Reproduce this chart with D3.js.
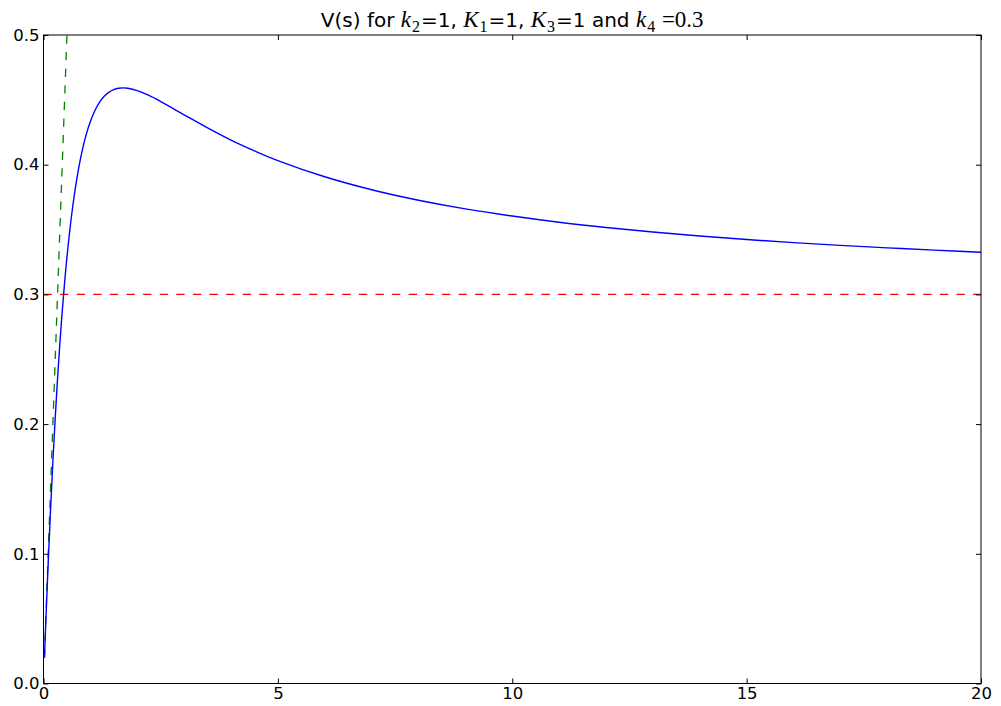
<!DOCTYPE html>
<html>
<head>
<meta charset="utf-8">
<script src="https://cdn.jsdelivr.net/npm/d3@7/dist/d3.min.js"></script>
<style>
html,body{margin:0;padding:0;background:#fff;}
svg{display:block;}
</style>
</head>
<body>
<svg id="chart" width="1001" height="706"></svg>
<script>
// Data
const sValues = [0.02,0.05,0.1,0.15,0.2,0.25,0.3,0.35,0.4,0.45,0.5,0.6,0.7,0.8,0.9,1.0,1.1,1.2,1.3,1.4,1.5,1.6,1.7,1.8,2.0,2.25,2.5,2.75,3,3.5,4,4.5,5,6,7,8,9,10,11,12,13,14,15,16,17,18,19,20];
const vValues = [0.0197,0.0482,0.0928,0.1337,0.1710,0.2048,0.2353,0.2626,0.2872,0.3091,0.3286,0.3612,0.3868,0.4066,0.4218,0.4333,0.4420,0.4484,0.4529,0.4560,0.4579,0.4589,0.4592,0.4589,0.4571,0.4534,0.4487,0.4436,0.4385,0.4284,0.4190,0.4107,0.4032,0.3907,0.3807,0.3726,0.3659,0.3604,0.3556,0.3516,0.3481,0.3450,0.3423,0.3399,0.3378,0.3359,0.3341,0.3325];
const slopeS = [0.02, 0.6];
const slopeV = [0.02, 0.6];
const asymS = [0, 20];
const asymV = [0.3, 0.3];
const xTicks = [0,5,10,15,20];
const yTicks = [0.0,0.1,0.2,0.3,0.4,0.5];

(function(){
const svg = d3.select("#chart");
const L = 43.5, R = 981, T = 35, B = 683.5;
const x = d3.scaleLinear().domain([0,20]).range([L,R]);
const y = d3.scaleLinear().domain([0,0.5]).range([B,T]);

svg.append("defs").append("clipPath").attr("id","clip")
  .append("rect").attr("x",L).attr("y",T).attr("width",R-L).attr("height",B-T);

const g = svg.append("g").attr("clip-path","url(#clip)");
const line = d3.line().x(d=>x(d[0])).y(d=>y(d[1]));
const lineSmooth = d3.line().x(d=>x(d[0])).y(d=>y(d[1])).curve(d3.curveCatmullRom.alpha(0.5));

g.append("path").datum(asymS.map((s,i)=>[s,asymV[i]]))
  .attr("d",line).attr("fill","none").attr("stroke","#ff0000")
  .attr("stroke-width",1.3).attr("stroke-dasharray","8.3,8.3");
g.append("path").datum(slopeS.map((s,i)=>[s,slopeV[i]]))
  .attr("d",line).attr("fill","none").attr("stroke","#008000")
  .attr("stroke-width",1.3).attr("stroke-dasharray","8.3,8.3");
g.append("path").datum(sValues.map((s,i)=>[s,vValues[i]]))
  .attr("d",lineSmooth).attr("fill","none").attr("stroke","#0000ff")
  .attr("stroke-width",1.4);

// Axes with inward ticks
const fs = "16.5px";
const fam = "DejaVu Sans";
const ax = svg.append("g").attr("font-family",fam).attr("font-size",fs);
const axB = ax.append("g").attr("transform",`translate(0,${B})`)
  .call(d3.axisBottom(x).tickValues(xTicks).tickSizeInner(-5).tickSizeOuter(0).tickPadding(10).tickFormat(d3.format("d")));
ax.append("g").attr("transform",`translate(0,${T})`)
  .call(d3.axisTop(x).tickValues(xTicks).tickSizeInner(-5).tickSizeOuter(0).tickFormat(""));
const axL = ax.append("g").attr("transform",`translate(${L},0)`)
  .call(d3.axisLeft(y).tickValues(yTicks).tickSizeInner(-5).tickSizeOuter(0).tickPadding(10).tickFormat(d3.format(".1f")));
ax.append("g").attr("transform",`translate(${R},0)`)
  .call(d3.axisRight(y).tickValues(yTicks).tickSizeInner(-5).tickSizeOuter(0).tickFormat(""));
ax.selectAll(".domain").remove();
ax.selectAll("text").attr("fill","#000").attr("font-family",fam).attr("font-size",fs);
ax.selectAll(".tick line").attr("stroke","#000");
axB.selectAll("text").attr("dy","0.71em").attr("y",4);
axL.selectAll("text").attr("x",-4);

svg.append("rect").attr("x",L).attr("y",T).attr("width",R-L).attr("height",B-T)
  .attr("fill","none").attr("stroke","#000").attr("stroke-width",1);

// Title with math parts
const title = svg.append("text").attr("x",(L+R)/2).attr("y",27)
  .attr("text-anchor","middle").attr("font-family",fam).attr("font-size","20px").attr("fill","#000");
const mf = "'Liberation Serif', 'DejaVu Serif', serif";
const parts = [
  {t:"V(s) for "},
  {t:"k", m:true, i:true},
  {t:"2", m:true, sub:true},
  {t:"=1, ", back:true},
  {t:"K", m:true, i:true},
  {t:"1", m:true, sub:true},
  {t:"=1, ", back:true},
  {t:"K", m:true, i:true},
  {t:"3", m:true, sub:true},
  {t:"=1 and ", back:true},
  {t:"k", m:true, i:true},
  {t:"4", m:true, sub:true},
  {t:" =0.3", m:true, back:true}
];
parts.forEach(p=>{
  const ts = title.append("tspan").text(p.t);
  if(p.m){ ts.attr("font-family",mf).attr("font-size","23px"); }
  if(p.i){ ts.attr("font-style","italic"); }
  if(p.sub){ ts.attr("font-size","16px").attr("dy","5").attr("dx","1"); }
  if(p.back){ ts.attr("dy","-5").attr("dx","1"); }
});
})();
</script>
</body>
</html>
